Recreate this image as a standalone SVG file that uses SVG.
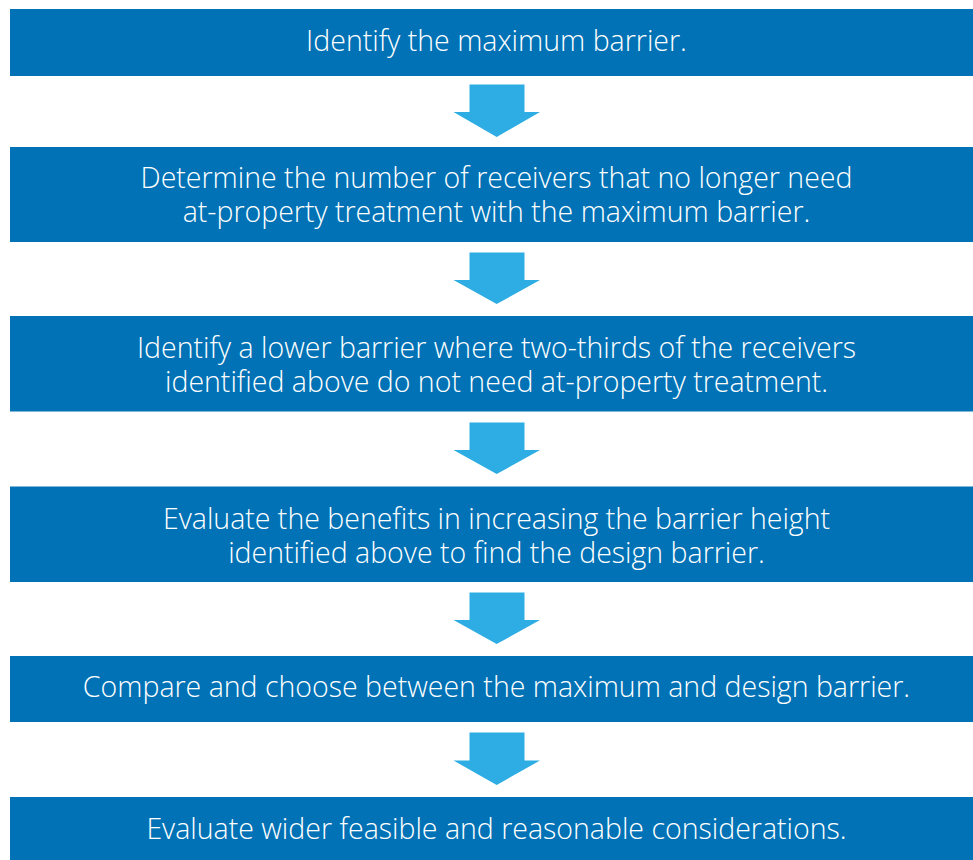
<svg xmlns="http://www.w3.org/2000/svg" width="973" height="860" viewBox="0 0 973 860">
<defs>
<style>
.box{fill:#0172B5;}
.arr{fill:#2DADE3;}
.t{font-family:"Open Sans","Noto Sans",sans-serif;font-size:28.5px;font-weight:300;fill:#FFFFFF;text-anchor:middle;}
</style>
</defs>
<rect width="973" height="860" fill="#FFFFFF"/>
<g id="connectors">
<path class="arr" d="M469.5,84.5 H524.5 V112 H540 L496.7,137 L453.5,112 H469.5 Z"/>
<path class="arr" d="M469.5,252.5 H524.5 V280 H540 L496.7,304 L453.5,280 H469.5 Z"/>
<path class="arr" d="M469.5,422.5 H524.5 V450 H540 L496.7,474 L453.5,450 H469.5 Z"/>
<path class="arr" d="M469.5,592.5 H524.5 V620 H540 L496.7,644 L453.5,620 H469.5 Z"/>
<path class="arr" d="M469.5,732.5 H524.5 V760.5 H540 L496.7,785 L453.5,760.5 H469.5 Z"/>
</g>
<g id="node1"><rect class="box" x="10" y="9" width="970" height="67"/><text class="t" x="496.5" y="50.7">Identify the maximum barrier.</text></g>
<g id="node2"><rect class="box" x="10" y="147" width="970" height="95"/><text class="t" x="496.5" y="188.3">Determine the number of receivers that no longer need</text><text class="t" x="496.5" y="222.3">at-property treatment with the maximum barrier.</text></g>
<g id="node3"><rect class="box" x="10" y="316" width="970" height="95.5"/><text class="t" x="496.5" y="358.3">Identify a lower barrier where two-thirds of the receivers</text><text class="t" x="496.5" y="392.3">identified above do not need at-property treatment.</text></g>
<g id="node4"><rect class="box" x="10" y="486.5" width="970" height="95.5"/><text class="t" x="496.5" y="528.8">Evaluate the benefits in increasing the barrier height</text><text class="t" x="496.5" y="562.8">identified above to find the design barrier.</text></g>
<g id="node5"><rect class="box" x="10" y="656" width="970" height="66"/><text class="t" x="496.5" y="697">Compare and choose between the maximum and design barrier.</text></g>
<g id="node6"><rect class="box" x="10" y="797" width="970" height="70"/><text class="t" x="496.5" y="838.7">Evaluate wider feasible and reasonable considerations.</text></g>
</svg>
